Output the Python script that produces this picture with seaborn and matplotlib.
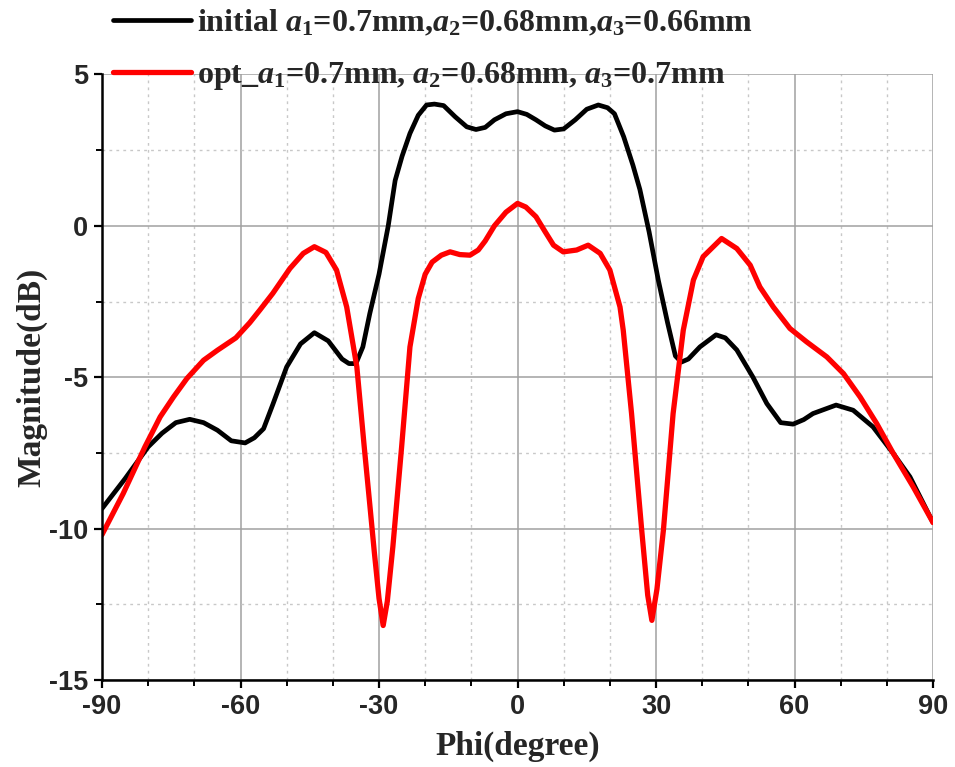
import numpy as np
import pandas as pd
import matplotlib
matplotlib.use("Agg")
import matplotlib.pyplot as plt
import seaborn as sns
from matplotlib.ticker import MultipleLocator

# data
phi_init = [-90, -85, -80, -77, -74, -71, -68, -65, -62, -59, -57, -55, -53, -50, -47, -44,
            -41, -38, -36.5, -35, -33.5, -32, -30, -28, -26.5, -25, -23.3, -21.5, -19.7, -18,
            -16, -13.5, -11, -9, -7, -5, -2.5, 0, 2, 4, 6, 8, 10, 12.5, 15, 17.5, 19.5, 21,
            23, 25, 26.5, 28.5, 30.5, 32.5, 34.2, 35.5, 37, 39.5, 43, 45, 47.5, 51, 54, 57,
            59.7, 62, 64, 69, 72.7, 77, 81.4, 85, 90]
mag_init = [-9.34, -8.35, -7.3, -6.85, -6.5, -6.39, -6.5, -6.75, -7.1, -7.17, -7.0, -6.7,
            -5.9, -4.66, -3.9, -3.53, -3.8, -4.4, -4.55, -4.55, -4.0, -2.9, -1.6, 0.0, 1.5,
            2.3, 3.05, 3.65, 3.99, 4.02, 3.97, 3.6, 3.27, 3.18, 3.25, 3.5, 3.7, 3.77, 3.68,
            3.5, 3.3, 3.16, 3.2, 3.5, 3.85, 3.99, 3.9, 3.7, 2.94, 2.0, 1.2, -0.2, -1.8, -3.2,
            -4.3, -4.5, -4.4, -4.0, -3.6, -3.7, -4.1, -5.0, -5.87, -6.5, -6.55, -6.4, -6.2,
            -5.92, -6.09, -6.64, -7.52, -8.29, -9.8]

phi_opt = [-90, -85.4, -80.7, -77.4, -74.5, -71.6, -68, -65, -61, -58, -55.8, -53, -49.3,
           -46.4, -44, -41.5, -39.2, -37, -34.8, -33.2, -32, -31, -30, -29.1, -28.2, -27,
           -25.1, -23.3, -21.5, -20, -18.5, -16.5, -14.6, -12.5, -10.3, -8.5, -7, -5, -2.5,
           0, 1.8, 4, 6, 7.8, 9.9, 12.8, 15.3, 17.9, 20, 22.2, 22.9, 24.7, 26.9, 28.2, 29.1,
           30.2, 31.6, 33.7, 35.9, 38.1, 40.2, 44.2, 47.5, 50.4, 52.5, 55.4, 59, 62.6, 67,
           70.6, 74.2, 77.8, 81.4, 85.7, 90]
mag_opt = [-10.2, -8.84, -7.3, -6.31, -5.65, -5.04, -4.44, -4.11, -3.7, -3.2, -2.78, -2.23,
           -1.41, -0.91, -0.69, -0.88, -1.46, -2.68, -4.66, -7.3, -9.2, -10.8, -12.3, -13.2,
           -12.4, -10.6, -7.3, -4.0, -2.4, -1.6, -1.2, -0.97, -0.86, -0.95, -0.97, -0.8,
           -0.5, 0.0, 0.45, 0.74, 0.62, 0.3, -0.2, -0.64, -0.86, -0.8, -0.64, -0.91, -1.46,
           -2.68, -3.45, -6.2, -10.05, -12.2, -13.03, -12.0, -10.05, -6.2, -3.45, -1.79,
           -1.02, -0.42, -0.75, -1.3, -2.02, -2.68, -3.39, -3.83, -4.33, -4.88, -5.65, -6.53,
           -7.52, -8.62, -9.8]

label_init = r"initial $a_1$=0.7mm,$a_2$=0.68mm,$a_3$=0.66mm"
label_opt = r"opt_$a_1$=0.7mm, $a_2$=0.68mm, $a_3$=0.7mm"

sns.set_style("white")
plt.rcParams["axes.unicode_minus"] = False
plt.rcParams["mathtext.fontset"] = "custom"
plt.rcParams["mathtext.rm"] = "Liberation Serif:bold"
plt.rcParams["mathtext.it"] = "Liberation Serif:italic:bold"
plt.rcParams["mathtext.bf"] = "Liberation Serif:bold"

df_init = pd.DataFrame({"phi": phi_init, "mag": mag_init})
df_opt = pd.DataFrame({"phi": phi_opt, "mag": mag_opt})

fig = plt.figure(figsize=(9.55, 7.67), dpi=100)
ax = fig.add_axes([0.1068, 0.1134, 0.8702, 0.7896])

sns.lineplot(data=df_init, x="phi", y="mag", color="black", lw=3.4, ax=ax,
             label=label_init, sort=False)
sns.lineplot(data=df_opt, x="phi", y="mag", color="#ff0000", lw=3.8, ax=ax,
             label=label_opt, sort=False)

ax.set_xlim(-90, 90)
ax.set_ylim(-15, 5)
ax.xaxis.set_major_locator(MultipleLocator(30))
ax.xaxis.set_minor_locator(MultipleLocator(10))
ax.yaxis.set_major_locator(MultipleLocator(5))
ax.yaxis.set_minor_locator(MultipleLocator(2.5))

ax.grid(True, which="major", color="#a0a0a0", lw=1.1, ls="-")
ax.grid(True, which="minor", color="#c8c8c8", lw=1.0, ls=(0, (2, 3)))
ax.set_axisbelow(True)

for s in ["top", "right"]:
    ax.spines[s].set_visible(False)
for s in ["left", "bottom"]:
    ax.spines[s].set_color("black")
    ax.spines[s].set_linewidth(1.8)

ax.tick_params(which="major", direction="out", length=6, width=1.6, color="black",
               bottom=True, left=True, pad=4)
ax.tick_params(which="minor", direction="out", length=4, width=1.4, color="black",
               bottom=True, left=True)
for t in ax.get_xticklabels() + ax.get_yticklabels():
    t.set_fontfamily("Liberation Sans")
    t.set_fontweight("bold")
    t.set_fontsize(19.5)

ax.set_xlabel("Phi(degree)", fontfamily="Liberation Serif", fontweight="bold",
              fontsize=24, labelpad=8)
ax.set_ylabel("Magnitude(dB)", fontfamily="Liberation Serif", fontweight="bold",
              fontsize=24, labelpad=1)

leg = ax.legend(loc="lower left", bbox_to_anchor=(0.118, 0.880), bbox_transform=fig.transFigure,
                frameon=False, handlelength=2.45, handletextpad=0.2, labelspacing=0.68,
                borderaxespad=0, borderpad=0,
                prop={"family": "Liberation Serif", "weight": "bold", "size": 23})

fig.savefig("out.png", dpi=100)
